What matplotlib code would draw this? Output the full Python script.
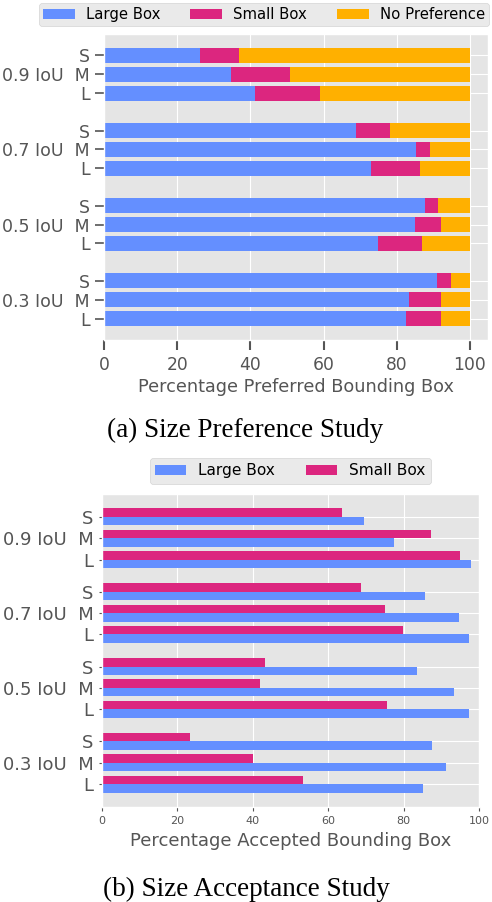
import numpy as np
import matplotlib
matplotlib.use('Agg')
import matplotlib.pyplot as plt

plt.style.use('ggplot')
plt.rcParams['font.family'] = ['DejaVu Sans']

ious = ['0.9', '0.7', '0.5', '0.3']
sizes = ['S', 'M', 'L']

# (a) size preference, % per row (S, M, L for each IoU)
pref_large = np.array([26.2, 34.6, 41.2, 68.8, 85.2, 72.9, 87.7, 85.0, 74.8, 91.0, 83.3, 82.5])
pref_small = np.array([10.6, 16.2, 17.8, 9.3, 3.9, 13.4, 3.5, 7.1, 12.1, 3.8, 8.8, 9.6])
pref_none = 100 - pref_large - pref_small

# (b) size acceptance, %
acc_large = np.array([69.5, 77.5, 97.9, 85.7, 94.7, 97.3, 83.6, 93.4, 97.3, 87.5, 91.3, 85.2])
acc_small = np.array([63.7, 87.3, 95.0, 68.7, 75.1, 79.9, 43.3, 41.9, 75.6, 23.4, 40.1, 53.4])

BLUE, MAGENTA, ORANGE = '#648FFF', '#DC267F', '#FFB000'
GREY = '#555555'

labels = []
for iou in ious:
    labels += ['S', f'{iou} IoU  M', 'L']

fig = plt.figure(figsize=(4.92, 9.02), dpi=100)

# ---- (a) ----
ax1 = fig.add_axes([104.3/492, 1-340/902, (488-104.3)/492, (340-34)/902])
pos1 = np.array([g*4 + i for g in range(len(ious)) for i in range(3)])
ax1.barh(pos1, pref_large, height=0.8, color=BLUE, label='Large Box')
ax1.barh(pos1, pref_small, left=pref_large, height=0.8, color=MAGENTA, label='Small Box')
ax1.barh(pos1, pref_none, left=pref_large+pref_small, height=0.8, color=ORANGE, label='No Preference')
ax1.invert_yaxis()
ax1.set_yticks(pos1)
ax1.set_yticklabels(labels)
ax1.set_xticks([0, 20, 40, 60, 80, 100])
ax1.tick_params(axis='y', labelsize=12.5, length=6.5, width=1.2, colors=GREY, pad=4)
ax1.tick_params(axis='x', labelsize=12.3, length=7.5, width=1.5, colors=GREY, pad=4)
ax1.set_xlabel('Percentage Preferred Bounding Box', fontsize=12.7, color=GREY, labelpad=3)
fig.legend(*ax1.get_legend_handles_labels(), loc='center', ncol=3,
           bbox_to_anchor=(264/492, 1-14.5/902), fontsize=10.7, frameon=True,
           borderpad=0.3, columnspacing=2.0, handlelength=2.15, handletextpad=0.75)

# ---- (b) ----
ax2 = fig.add_axes([101.7/492, 1-807/902, (479-101.7)/492, (807-494)/902])
pos2 = np.array([g*3.5 + i for g in range(len(ious)) for i in range(3)])
ax2.barh(pos2 + 0.2, acc_large, height=0.4, color=BLUE, label='Large Box')
ax2.barh(pos2 - 0.2, acc_small, height=0.4, color=MAGENTA, label='Small Box')
ax2.invert_yaxis()
ax2.set_xlim(0, 100)
ax2.set_yticks(pos2)
ax2.set_yticklabels(labels)
ax2.tick_params(axis='y', labelsize=13, length=2.5, width=0.8, colors=GREY)
ax2.tick_params(axis='x', labelsize=8, length=3, width=0.8, colors=GREY)
ax2.set_xlabel('Percentage Accepted Bounding Box', fontsize=13, color=GREY, labelpad=4)
ax2.legend(loc='center', ncol=2, bbox_to_anchor=(0.5, 1.074), fontsize=11.1,
           frameon=True, borderpad=0.35, columnspacing=2.0)

fig.text(0.499, 1-430/902, '(a) Size Preference Study', ha='center', va='center',
         family='Liberation Serif', fontsize=19.5, color='black')
fig.text(0.5, 1-889/902, '(b) Size Acceptance Study', ha='center', va='center',
         family='Liberation Serif', fontsize=19.5, color='black')

fig.savefig('out.png', dpi=100, facecolor='white')
